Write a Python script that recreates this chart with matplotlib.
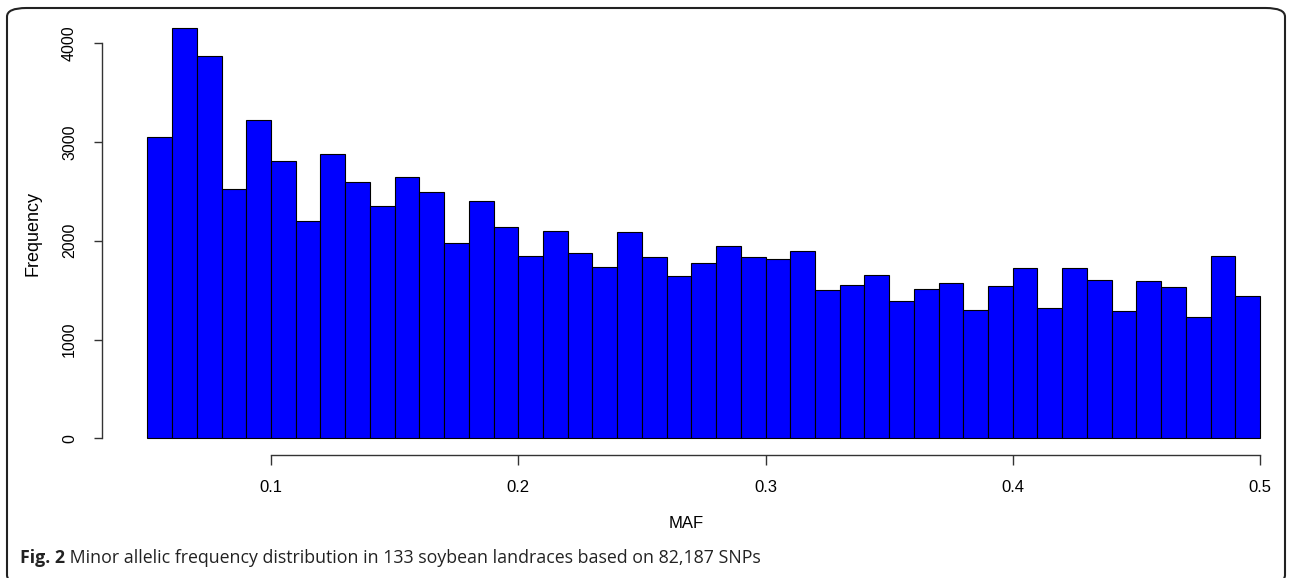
import numpy as np
import matplotlib
matplotlib.use("Agg")
import matplotlib.pyplot as plt
from matplotlib.patches import FancyBboxPatch

# bin edges (MAF) and counts
bin_left = [0.05 + 0.01 * i for i in range(45)]
counts = [3054, 4152, 3868, 2528, 3226, 2805, 2204, 2879, 2592, 2352,
          2646, 2497, 1981, 2403, 2143, 1846, 2102, 1880, 1732, 2089,
          1836, 1644, 1772, 1951, 1836, 1816, 1900, 1505, 1549, 1657,
          1393, 1515, 1570, 1296, 1539, 1721, 1316, 1721, 1606, 1286,
          1593, 1532, 1232, 1846, 1444]
x_ticks = [0.1, 0.2, 0.3, 0.4, 0.5]
y_ticks = [0, 1000, 2000, 3000, 4000]
caption_bold = "Fig. 2"
caption_rest = " Minor allelic frequency distribution in 133 soybean landraces based on 82,187 SNPs"

W, H = 1290, 578
fig = plt.figure(figsize=(W / 100, H / 100), dpi=100)
plt.rcParams['font.family'] = ['Liberation Sans', 'DejaVu Sans']

# axes placed in pixel terms
left, right = 102, 1270
bottom, top = 454.7, 11.9
ax = fig.add_axes([left / W, 1 - bottom / H, (right - left) / W, (bottom - top) / H])
ax.patch.set_alpha(0)

ax.bar(bin_left, counts, width=0.01, align='edge', color='#0000ff',
       edgecolor='black', linewidth=0.8)

ax.set_xlim(0.03164, 0.50404)
ax.set_ylim(-166, 4318)

for s in ['top', 'right']:
    ax.spines[s].set_visible(False)
ax.spines['left'].set_bounds(0, 4000)
ax.spines['bottom'].set_bounds(0.1, 0.5)
for s in ['left', 'bottom']:
    ax.spines[s].set_linewidth(1.0)
    ax.spines[s].set_color('#333333')

ax.set_xticks(x_ticks)
ax.set_xticklabels([str(v) for v in x_ticks])
ax.set_yticks(y_ticks)
ax.set_yticklabels([str(v) for v in y_ticks], rotation=90, va='center')
ax.tick_params(axis='x', length=7, width=1.0, color='#333333', labelsize=12, pad=11)
ax.tick_params(axis='y', length=6, width=1.0, color='#333333', labelsize=11.5, pad=12)

ax.set_xlabel('MAF', fontsize=12, labelpad=15)
ax.set_ylabel('Frequency', fontsize=13, labelpad=15)

# caption
t = fig.text(20 / W, 1 - 558 / H, caption_bold, fontsize=12.8, fontweight='bold',
             family=['Open Sans', 'DejaVu Sans'], va='center', color='#222222')
fig.canvas.draw()
bb = t.get_window_extent()
fig.text(bb.x1 / W, 1 - 558 / H, caption_rest, fontsize=12.8,
         family=['Open Sans', 'DejaVu Sans'], va='center', color='#222222')

# rounded frame around the figure
frame = FancyBboxPatch((7 / W, -0.01), (1285 - 7) / W, (1 - 8 / H) + 0.01,
                       boxstyle="round,pad=0,rounding_size=0.015",
                       transform=fig.transFigure, fill=False,
                       edgecolor='#222222', linewidth=1.5)
fig.patches.append(frame)

fig.savefig('out.png', dpi=100)
